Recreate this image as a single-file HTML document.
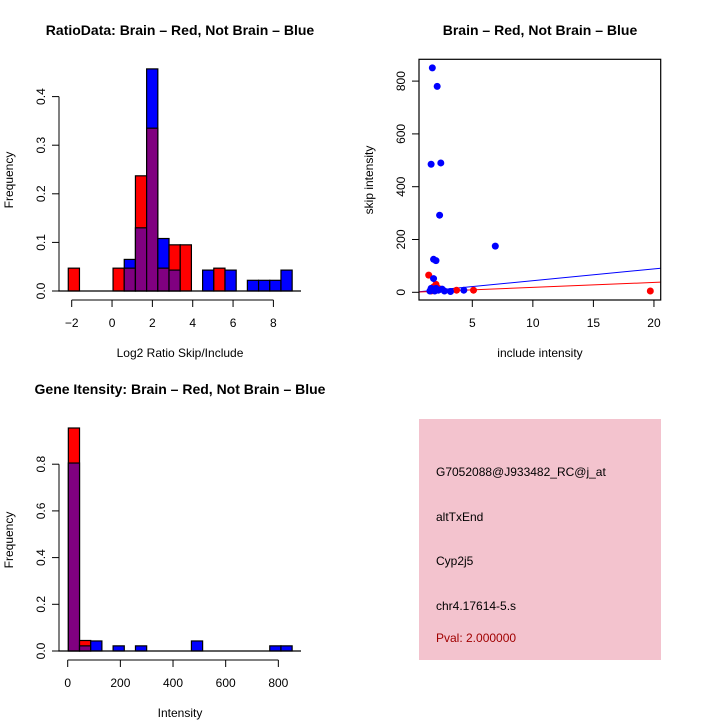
<!DOCTYPE html>
<html><head><meta charset="utf-8"><style>
html,body{margin:0;padding:0;background:#fff;}
svg{display:block;font-family:"Liberation Sans",sans-serif;}
</style></head><body>
<svg id="s" width="720" height="720" viewBox="0 0 720 720" xmlns="http://www.w3.org/2000/svg">
<rect width="720" height="720" fill="#fff"/>
<g id="p1"></g>
<g id="p2"></g>
<g id="p3"></g>
<g>
<rect x="419" y="419" width="242" height="241" fill="#f3c3ce"/>
<text x="436" y="476" font-size="12">G7052088@J933482_RC@j_at</text>
<text x="436" y="521" font-size="12">altTxEnd</text>
<text x="436" y="565" font-size="12">Cyp2j5</text>
<text x="436" y="610" font-size="12">chr4.17614-5.s</text>
<text x="436" y="642" font-size="12" fill="#a00000">Pval: 2.000000</text>
</g>
</svg>
<script>
// ---- Chart 1 data: ratio histogram ----
const ratioBinStart = -2.17;
const ratioBinWidth = 0.555;
const ratioRed  = [0.047,0,0,0,0.047,0.047,0.237,0.335,0.047,0.095,0.095,0,0,0.047,0,0,0,0,0,0];
const ratioBlue = [0,0,0,0,0,0.065,0.13,0.457,0.108,0.043,0,0,0.043,0,0.043,0,0.022,0.022,0.022,0.043];
const ratioXTicks = [-2,0,2,4,6,8];
const ratioYTicks = [0,0.1,0.2,0.3,0.4];
// ---- Chart 2 data: scatter ----
const blueInclude = [1.7,2.1,1.6,2.4,2.3,6.9,1.8,2.0,1.8,1.6,1.7,1.9,2.2,2.5,2.7,3.2,4.3,2.0,1.5];
const blueSkip    = [850,780,485,490,292,175,125,120,52,15,10,5,8,12,5,3,8,15,5];
const redInclude  = [1.4,2.0,1.8,3.7,5.1,19.7,2.2,1.6];
const redSkip     = [65,30,20,8,8,5,15,5];
const blueFit = [-0.5,4.45];  // intercept, slope
const redFit  = [-0.2,1.88];
const scatXTicks = [5,10,15,20];
const scatYTicks = [0,200,400,600,800];
// ---- Chart 3 data: intensity histogram ----
const intBinStart = 2.4;
const intBinWidth = 42.5;
const intRed  = [0.955,0.045,0,0,0,0,0,0,0,0,0,0,0,0,0,0,0,0,0,0];
const intBlue = [0.805,0.022,0.043,0,0.022,0,0.022,0,0,0,0,0.043,0,0,0,0,0,0,0.022,0.022];
const intXTicks = [0,200,400,600,800];
const intYTicks = [0,0.2,0.4,0.6,0.8];

const NS="http://www.w3.org/2000/svg";
function mk(parent,tag,attrs,txt){const e=document.createElementNS(NS,tag);for(const k in attrs)e.setAttribute(k,attrs[k]);if(txt!==undefined)e.textContent=txt;parent.appendChild(e);return e;}

function hist(g,o){
  const {xs,ys,start,width,red,blue,xt,yt,title,xlab,axisY,tickY,labY}=o;
  for(let k=0;k<red.length;k++){
    const x0=xs(start+k*width), x1=xs(start+(k+1)*width);
    const r=red[k], b=blue[k];
    const hi=Math.max(r,b), lo=Math.min(r,b);
    if(hi>0){
      const e=mk(g,'rect',{x:x0,y:ys(hi),width:x1-x0,height:ys(0)-ys(hi),fill:r>b?'#ff0000':'#0000ff',stroke:'#000','stroke-width':1.2});
      
      
    }
    if(lo>0){
      const e=mk(g,'rect',{x:x0,y:ys(lo),width:x1-x0,height:ys(0)-ys(lo),fill:'#800080',stroke:'#000','stroke-width':1.2});
      
      
    }
  }
  // baseline
  const bl=mk(g,'line',{x1:xs(start)-10,x2:301,y1:ys(0),y2:ys(0),stroke:'#000','stroke-width':1.2});
  
  
  // y axis
  const ya=mk(g,'line',{x1:59,x2:59,y1:ys(0),y2:ys(yt[yt.length-1]),stroke:'#000','stroke-width':1});
  
  
  yt.forEach(v=>{
    mk(g,'line',{x1:52,x2:59,y1:ys(v),y2:ys(v),stroke:'#000'});
    const t=mk(g,'text',{x:0,y:0,'font-size':12,'text-anchor':'middle',transform:`translate(45,${ys(v)}) rotate(-90)`},String(v===0?'0.0':v));
    
    
  });
  // x axis
  const xa=mk(g,'line',{x1:xs(xt[0]),x2:xs(xt[xt.length-1]),y1:axisY,y2:axisY,stroke:'#000'});
  
  
  xt.forEach(v=>{
    mk(g,'line',{x1:xs(v),x2:xs(v),y1:axisY,y2:axisY+7,stroke:'#000'});
    const t=mk(g,'text',{x:xs(v),y:tickY,'font-size':12,'text-anchor':'middle'},v<0?'\u2212'+(-v):String(v));
    
    
  });
  const ti=mk(g,'text',{x:180,y:labY.title,'font-size':14,'font-weight':'bold','text-anchor':'middle'},title);
  
  
  const xl=mk(g,'text',{x:180,y:labY.x,'font-size':12,'text-anchor':'middle'},xlab);
  
  
  const yl=mk(g,'text',{x:0,y:0,'font-size':12,'text-anchor':'middle',transform:`translate(13,${labY.yc}) rotate(-90)`},'Frequency');
  
  
}

// Chart 1
hist(document.getElementById('p1'),{
  xs:v=>71.7+(v+2)*20.17, ys:v=>291-v*486, start:ratioBinStart,width:ratioBinWidth,
  red:ratioRed,blue:ratioBlue,xt:ratioXTicks,yt:ratioYTicks,
  title:'RatioData: Brain \u2013 Red, Not Brain \u2013 Blue',xlab:'Log2 Ratio Skip/Include',
  axisY:300,tickY:327,labY:{title:35,x:357,yc:180}
});
// Chart 3
hist(document.getElementById('p3'),{
  xs:v=>67.7+v*0.2633, ys:v=>651-v*233.5, start:intBinStart,width:intBinWidth,
  red:intRed,blue:intBlue,xt:intXTicks,yt:intYTicks,
  title:'Gene Itensity: Brain \u2013 Red, Not Brain \u2013 Blue',xlab:'Intensity',
  axisY:660,tickY:687,labY:{title:394,x:717,yc:540}
});

// Chart 2 scatter
(function(){
  const g=document.getElementById('p2');
  const L=419,R=660.7,T=59.3,B=300;
  const xs=v=>472.3+(v-5)*12.11, ys=v=>292.3-v*0.264;
  const x0v=(L-472.3)/12.11+5, x1v=(R-472.3)/12.11+5;
  const clip=mk(g,'clipPath',{id:'c2'});mk(clip,'rect',{x:L,y:T,width:R-L,height:B-T});
  const pg=mk(g,'g',{'clip-path':'url(#c2)'});
  [[blueFit,'#0000ff','fit-line-blue'],[redFit,'#ff0000','fit-line-red']].forEach(([f,c,n])=>{
    const l=mk(pg,'line',{x1:xs(x0v),y1:ys(f[0]+f[1]*x0v),x2:xs(x1v),y2:ys(f[0]+f[1]*x1v),stroke:c,'stroke-width':1});
    
    
  });
  redInclude.forEach((v,i)=>{
    const p=mk(pg,'circle',{cx:xs(v),cy:ys(redSkip[i]),r:3.5,fill:'#ff0000'});
    
    
  });
  blueInclude.forEach((v,i)=>{
    const p=mk(pg,'circle',{cx:xs(v),cy:ys(blueSkip[i]),r:3.5,fill:'#0000ff'});
    
    
  });
  const box=mk(g,'rect',{x:L,y:T,width:R-L,height:B-T,fill:'none',stroke:'#000','stroke-width':1.2});
  
  
  scatXTicks.forEach(v=>{
    mk(g,'line',{x1:xs(v),x2:xs(v),y1:B,y2:B+7,stroke:'#000'});
    const t=mk(g,'text',{x:xs(v),y:327,'font-size':12,'text-anchor':'middle'},String(v));
    
    
  });
  scatYTicks.forEach(v=>{
    mk(g,'line',{x1:L-7,x2:L,y1:ys(v),y2:ys(v),stroke:'#000'});
    const t=mk(g,'text',{x:0,y:0,'font-size':12,'text-anchor':'middle',transform:`translate(405,${ys(v)}) rotate(-90)`},String(v));
    
    
  });
  const ti=mk(g,'text',{x:540,y:35,'font-size':14,'font-weight':'bold','text-anchor':'middle'},'Brain \u2013 Red, Not Brain \u2013 Blue');
  
  
  const xl=mk(g,'text',{x:540,y:357,'font-size':12,'text-anchor':'middle'},'include intensity');
  
  
  const yl=mk(g,'text',{x:0,y:0,'font-size':12,'text-anchor':'middle',transform:'translate(373,180) rotate(-90)'},'skip intensity');
  
  
})();
</script>
</body></html>
